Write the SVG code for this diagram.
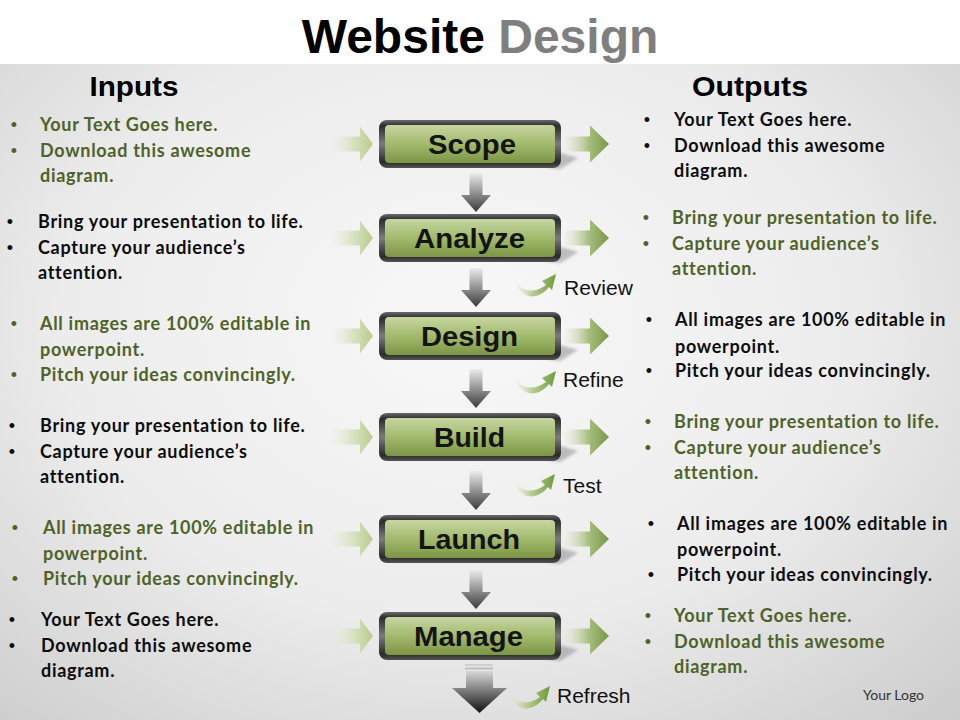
<svg xmlns="http://www.w3.org/2000/svg" xmlns:xlink="http://www.w3.org/1999/xlink" width="960" height="720" viewBox="0 0 960 720">
<defs>
<style>
.t{font-family:Lato,"Open Sans","Liberation Sans",sans-serif;font-weight:700;font-size:18px;letter-spacing:0.7px}
.b{font-family:"Liberation Sans",Arial,sans-serif;font-size:18px;text-anchor:middle}
.g{fill:#4f6228}
.k{fill:#0d0d0d}
.h{font-family:"Liberation Sans",Arial,sans-serif;font-weight:700;font-size:28px;fill:#000}
.nl{font-family:"Liberation Sans",Arial,sans-serif;font-weight:700;font-size:27px;fill:#141414;text-anchor:middle}
.lb{font-family:"Liberation Sans",Arial,sans-serif;font-size:21px;fill:#111}
</style>
<radialGradient id="bg" cx="0.48" cy="0.45" r="0.75">
<stop offset="0" stop-color="#f8f8f8"/>
<stop offset="0.55" stop-color="#ececec"/>
<stop offset="1" stop-color="#cdcdcd"/>
</radialGradient>
<linearGradient id="gBorder" x1="0" y1="0" x2="0" y2="1">
<stop offset="0" stop-color="#6a6a6a"/>
<stop offset="0.12" stop-color="#2c2c2c"/>
<stop offset="0.5" stop-color="#7c7c7c"/>
<stop offset="0.88" stop-color="#2a2a2a"/>
<stop offset="1" stop-color="#555"/>
</linearGradient>
<linearGradient id="gFace" x1="0" y1="0" x2="0" y2="1">
<stop offset="0" stop-color="#c6d6a2"/>
<stop offset="0.5" stop-color="#a2ba6c"/>
<stop offset="1" stop-color="#7b9545"/>
</linearGradient>
<linearGradient id="gLeft" x1="0" y1="0" x2="1" y2="0">
<stop offset="0" stop-color="#e6ecd8" stop-opacity="0"/>
<stop offset="0.55" stop-color="#d7e2bf"/>
<stop offset="1" stop-color="#b8cc8e"/>
</linearGradient>
<linearGradient id="gRight" x1="0" y1="0" x2="1" y2="0">
<stop offset="0" stop-color="#e4eadb" stop-opacity="0.3"/>
<stop offset="0.55" stop-color="#a6bd7d"/>
<stop offset="1" stop-color="#7a9746"/>
</linearGradient>
<linearGradient id="gDown" x1="0" y1="0" x2="0" y2="1">
<stop offset="0" stop-color="#ececec"/>
<stop offset="1" stop-color="#3a3a3a"/>
</linearGradient>
<linearGradient id="gBig" x1="0" y1="0" x2="0" y2="1">
<stop offset="0" stop-color="#d8d8d8"/>
<stop offset="1" stop-color="#111"/>
</linearGradient>
<linearGradient id="gSw" x1="0" y1="0" x2="1" y2="0">
<stop offset="0" stop-color="#e2ead0" stop-opacity="0"/>
<stop offset="0.45" stop-color="#b9cd92"/>
<stop offset="1" stop-color="#6f9a3a"/>
</linearGradient>
<filter id="blur" x="-0.5" y="-0.5" width="2" height="2"><feGaussianBlur stdDeviation="1.5"/></filter>
<g id="box">
<polygon points="166,47 182,33 199,38 181,49" fill="#8f8f8f" opacity="0.55" filter="url(#blur)"/>
<rect x="0" y="0" width="182" height="48" rx="8" fill="url(#gBorder)"/>
<rect x="6" y="5" width="170" height="38" rx="4" fill="url(#gFace)"/>
</g>
<path id="arrL" d="M0,-7.5 H30 V-17.5 L43,0 L30,17.5 V7.5 H0 Z" fill="url(#gLeft)"/>
<path id="arrR" d="M0,-7.5 H25 V-18.5 L44,0 L25,18.5 V7.5 H0 Z" fill="url(#gRight)"/>
<path id="arrD" d="M-6.5,0 V22 H-15 L0,39 L15,22 H6.5 V0 Z" fill="url(#gDown)"/>
<path id="sw" d="M513,277 C520,291 532,295 546,285 L542,281 L556,274 L552,290 L549,287 C536,303 518,298 513,277 Z" fill="url(#gSw)"/>
</defs>

<rect x="0" y="0" width="960" height="720" fill="url(#bg)"/>
<rect x="0" y="0" width="960" height="64" fill="#ffffff"/>

<g id="title">
<text x="480" y="53" text-anchor="middle" font-family="'Liberation Sans',Arial,sans-serif" font-weight="700" font-size="48"><tspan fill="#000">Website </tspan><tspan fill="#7f7f7f">Design</tspan></text>
</g>

<g id="headings">
<text class="h" x="134" y="96" text-anchor="middle" textLength="89" lengthAdjust="spacingAndGlyphs">Inputs</text>
<text class="h" x="750" y="96" text-anchor="middle" textLength="116" lengthAdjust="spacingAndGlyphs">Outputs</text>
</g>

<g id="connectors">
<use xlink:href="#arrL" x="330" y="144"/>
<use xlink:href="#arrL" x="330" y="238"/>
<use xlink:href="#arrL" x="330" y="336"/>
<use xlink:href="#arrL" x="330" y="437"/>
<use xlink:href="#arrL" x="330" y="539"/>
<use xlink:href="#arrL" x="330" y="636"/>
<use xlink:href="#arrR" x="565" y="144"/>
<use xlink:href="#arrR" x="565" y="238"/>
<use xlink:href="#arrR" x="565" y="336"/>
<use xlink:href="#arrR" x="565" y="437"/>
<use xlink:href="#arrR" x="565" y="539"/>
<use xlink:href="#arrR" x="565" y="636"/>
<use xlink:href="#arrD" x="476" y="173"/>
<use xlink:href="#arrD" x="476" y="268"/>
<use xlink:href="#arrD" x="476" y="369"/>
<use xlink:href="#arrD" x="476" y="471"/>
<use xlink:href="#arrD" x="476" y="570"/>
<g id="bottom-arrow">
<rect x="465" y="664" width="28" height="2" fill="#cfcfcf"/>
<rect x="465" y="667.5" width="28" height="2" fill="#bdbdbd"/>
<path d="M466,671 V688 H452 L479.5,713 L507,688 H493 V671 Z" fill="url(#gBig)"/>
</g>
<use xlink:href="#sw"/>
<use xlink:href="#sw" transform="translate(0,97)"/>
<use xlink:href="#sw" transform="translate(-1,200)"/>
<use xlink:href="#sw" transform="translate(-6,412)"/>
<text class="lb" x="564" y="295">Review</text>
<text class="lb" x="563" y="387">Refine</text>
<text class="lb" x="563" y="493">Test</text>
<text class="lb" x="557" y="703">Refresh</text>
</g>

<g id="node-scope">
<use xlink:href="#box" x="379" y="120"/>
<text class="nl" x="472" y="153.5" textLength="88" lengthAdjust="spacingAndGlyphs">Scope</text>
</g>
<g id="node-analyze">
<use xlink:href="#box" x="379" y="214"/>
<text class="nl" x="469.5" y="247.5" textLength="111" lengthAdjust="spacingAndGlyphs">Analyze</text>
</g>
<g id="node-design">
<use xlink:href="#box" x="379" y="312"/>
<text class="nl" x="469.5" y="345.5" textLength="97" lengthAdjust="spacingAndGlyphs">Design</text>
</g>
<g id="node-build">
<use xlink:href="#box" x="379" y="413"/>
<text class="nl" x="469.5" y="446.5" textLength="71" lengthAdjust="spacingAndGlyphs">Build</text>
</g>
<g id="node-launch">
<use xlink:href="#box" x="379" y="515"/>
<text class="nl" x="469" y="548.5" textLength="102" lengthAdjust="spacingAndGlyphs">Launch</text>
</g>
<g id="node-manage">
<use xlink:href="#box" x="379" y="612"/>
<text class="nl" x="468.5" y="645.5" textLength="109" lengthAdjust="spacingAndGlyphs">Manage</text>
</g>

<g id="inputs">
<g class="g">
<text class="b g" x="14" y="131">•</text><text class="b g" x="14" y="157">•</text>
<text class="t g" x="40" y="131">Your Text Goes here.</text>
<text class="t g" x="40" y="157">Download  this awesome</text>
<text class="t g" x="40" y="182">diagram.</text>
</g>
<g class="k">
<text class="b k" x="10" y="228">•</text><text class="b k" x="10" y="254">•</text>
<text class="t k" x="38" y="228">Bring your presentation to life.</text>
<text class="t k" x="38" y="254">Capture your  audience’s</text>
<text class="t k" x="38" y="279">attention.</text>
</g>
<g class="g">
<text class="b g" x="14" y="330">•</text><text class="b g" x="14" y="381">•</text>
<text class="t g" x="40" y="330">All images are 100% editable in</text>
<text class="t g" x="40" y="356">powerpoint.</text>
<text class="t g" x="40" y="381">Pitch your ideas convincingly.</text>
</g>
<g class="k">
<text class="b k" x="12" y="432">•</text><text class="b k" x="12" y="458">•</text>
<text class="t k" x="40" y="432">Bring your presentation to life.</text>
<text class="t k" x="40" y="458">Capture your  audience’s</text>
<text class="t k" x="40" y="483">attention.</text>
</g>
<g class="g">
<text class="b g" x="15" y="534">•</text><text class="b g" x="15" y="585">•</text>
<text class="t g" x="43" y="534">All images are 100% editable in</text>
<text class="t g" x="43" y="560">powerpoint.</text>
<text class="t g" x="43" y="585">Pitch your ideas convincingly.</text>
</g>
<g class="k">
<text class="b k" x="12" y="626">•</text><text class="b k" x="12" y="652">•</text>
<text class="t k" x="41" y="626">Your Text Goes here.</text>
<text class="t k" x="41" y="652">Download  this awesome</text>
<text class="t k" x="41" y="677">diagram.</text>
</g>
</g>

<g id="outputs">
<g class="k">
<text class="b k" x="647" y="126">•</text><text class="b k" x="647" y="152">•</text>
<text class="t k" x="674" y="126">Your Text Goes here.</text>
<text class="t k" x="674" y="152">Download  this awesome</text>
<text class="t k" x="674" y="177">diagram.</text>
</g>
<g class="g">
<text class="b g" x="646" y="224">•</text><text class="b g" x="646" y="250">•</text>
<text class="t g" x="672" y="224">Bring your presentation to life.</text>
<text class="t g" x="672" y="250">Capture your  audience’s</text>
<text class="t g" x="672" y="275">attention.</text>
</g>
<g class="k">
<text class="b k" x="649" y="326">•</text><text class="b k" x="649" y="377">•</text>
<text class="t k" x="675" y="326">All images are 100% editable in</text>
<text class="t k" x="675" y="353">powerpoint.</text>
<text class="t k" x="675" y="377">Pitch your ideas convincingly.</text>
</g>
<g class="g">
<text class="b g" x="648" y="428">•</text><text class="b g" x="648" y="454">•</text>
<text class="t g" x="674" y="428">Bring your presentation to life.</text>
<text class="t g" x="674" y="454">Capture your  audience’s</text>
<text class="t g" x="674" y="479">attention.</text>
</g>
<g class="k">
<text class="b k" x="651" y="530">•</text><text class="b k" x="651" y="581">•</text>
<text class="t k" x="677" y="530">All images are 100% editable in</text>
<text class="t k" x="677" y="556">powerpoint.</text>
<text class="t k" x="677" y="581">Pitch your ideas convincingly.</text>
</g>
<g class="g">
<text class="b g" x="648" y="622">•</text><text class="b g" x="648" y="648">•</text>
<text class="t g" x="674" y="622">Your Text Goes here.</text>
<text class="t g" x="674" y="648">Download  this awesome</text>
<text class="t g" x="674" y="673">diagram.</text>
</g>
</g>

<g id="logo">
<text x="863" y="700" font-family="Lato,'Open Sans','Liberation Sans',sans-serif" font-size="14" fill="#333">Your Logo</text>
</g>
</svg>
